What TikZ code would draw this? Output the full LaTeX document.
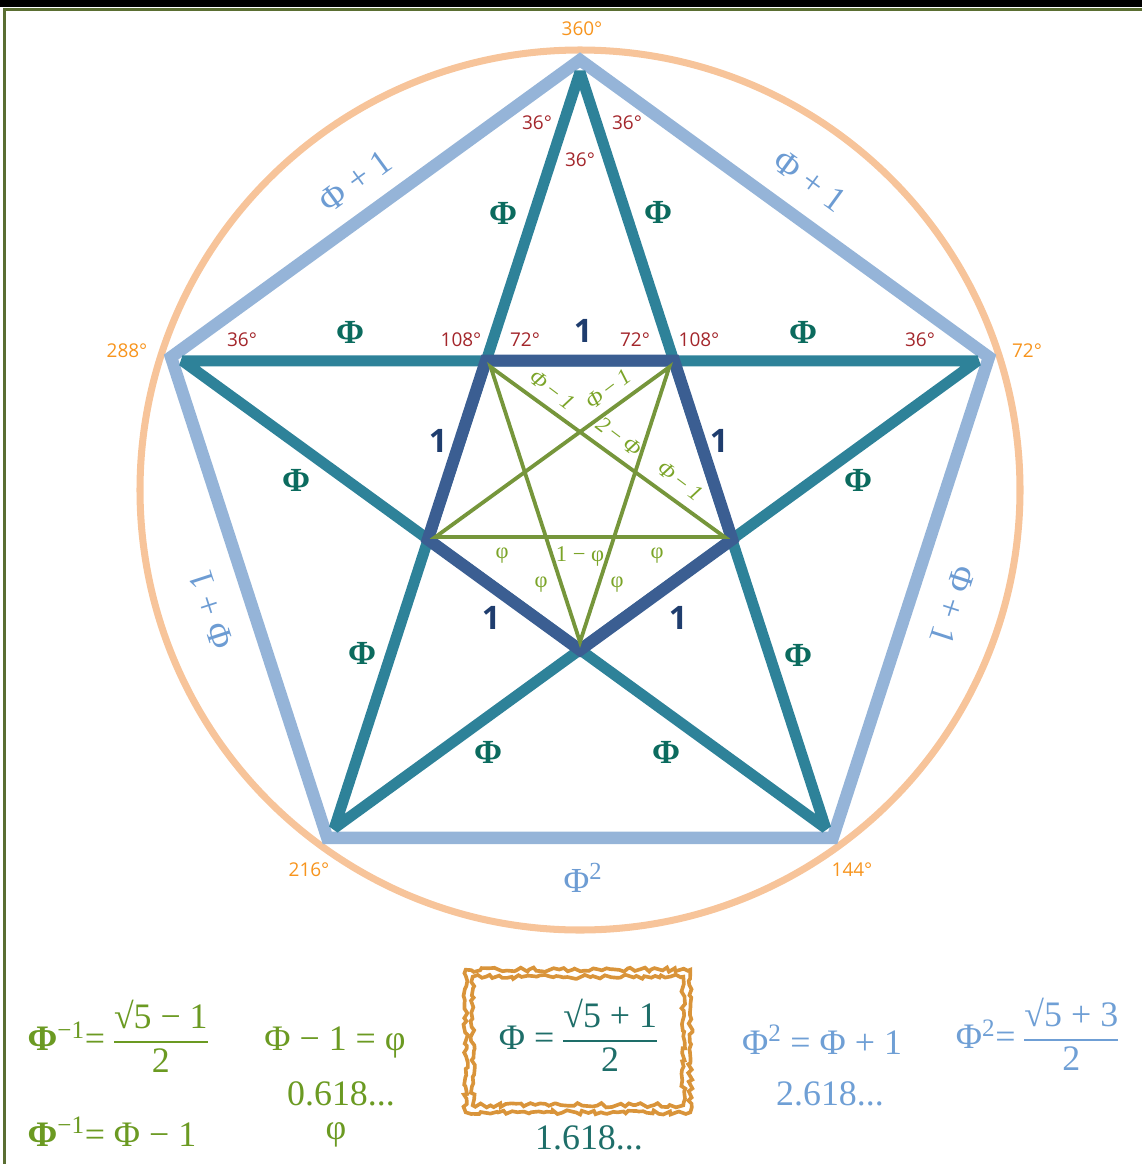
\documentclass[tikz,border=0pt]{standalone}
\usepackage{fontspec}
\setmainfont{Liberation Serif}
\newfontfamily\lblfont{Open Sans}
\usetikzlibrary{calc, decorations.pathmorphing}

\definecolor{ringC}{HTML}{F7C49A}
\definecolor{outerC}{HTML}{95B4D8}
\definecolor{starC}{HTML}{2E8299}
\definecolor{innerC}{HTML}{3B5E92}
\definecolor{smallC}{HTML}{76963B}
\definecolor{degC}{HTML}{F7941D}
\definecolor{angC}{HTML}{A3262B}
\definecolor{phiC}{HTML}{0B6B5E}
\definecolor{oneC}{HTML}{1F3D6E}
\definecolor{edgC}{HTML}{6D9CD3}
\definecolor{gtxC}{HTML}{7BA428}
\definecolor{fgrC}{HTML}{6B9A22}
\definecolor{ftlC}{HTML}{1E6E69}
\definecolor{fblC}{HTML}{6F9FD5}
\definecolor{frmC}{HTML}{D9943A}
\definecolor{oliveC}{HTML}{5A6E32}

\setlength{\arrayrulewidth}{1.1pt}
\newcommand{\phifrac}[2]{\begin{tabular}{@{}c@{}}#1\\\hline #2\end{tabular}}

\begin{document}
\begin{tikzpicture}[x=0.025cm, y=-0.025cm,
            % ----- Styles -----
                ring/.style={draw=ringC, line width=5pt},
                outer/.style={draw=outerC, line width=8.8pt, line join=miter},
                star/.style={draw=starC, line width=7.8pt, line join=bevel},
                inner/.style={draw=innerC, line width=8.6pt, line join=miter},
                small/.style={draw=smallC, line width=2.7pt, line join=miter},
                deg/.style={font=\lblfont\fontsize{13.5}{14}\selectfont, text=degC, inner sep=1pt},
                ang/.style={font=\lblfont\fontsize{13.5}{14}\selectfont, text=angC, inner sep=1pt},
                phl/.style={font=\bfseries\fontsize{24}{24}\selectfont, text=phiC, inner sep=1pt},
                one/.style={font=\lblfont\bfseries\fontsize{23}{23}\selectfont, text=oneC, inner sep=1pt},
                edg/.style={font=\fontsize{25}{25}\selectfont, text=edgC, inner sep=1pt},
                gsm/.style={font=\fontsize{16}{16}\selectfont, text=gtxC, inner sep=0pt},
                fml/.style={font=\fontsize{25.5}{30}\selectfont, inner sep=1pt},
                frm/.style={draw=frmC, line width=2.6pt, decorate,
                    decoration={random steps, segment length=3pt, amplitude=1.6pt}}
            ]

                \useasboundingbox (0,0) rectangle (1142,1164);

% ===================== Rahmen ==================================
                \fill[black] (0,0) rectangle (1142,6.5);
                \draw[oliveC, line width=2pt] (4.5,1164) -- (4.5,9.5) -- (1142,9.5);

% ===================== Punkte ==================================
%
%  Mitte (580,490), aeusseres Fuenfeck r=430, Stern r=418,
%  inneres Fuenfeck r=160, kleiner Stern r=152
%
                \coordinate (c) at (580,490);
                \foreach \i/\a in {1/-90, 2/-18, 3/54, 4/126, 5/198} {
                    \coordinate (o\i) at ($(c)+(\a:430)$);
                    \coordinate (s\i) at ($(c)+(\a:418)$);
                }
                \foreach \i/\a in {1/-126, 2/-54, 3/18, 4/90, 5/162} {
                    \coordinate (p\i) at ($(c)+(\a:160)$);
                    \coordinate (g\i) at ($(c)+(\a:152)$);
                }

% ===================== Linien ==================================
                \draw[ring] (c) circle [radius=440];
                \draw[outer] (o1) -- (o2) -- (o3) -- (o4) -- (o5) -- cycle;
                \draw[star] (s1) -- (s3) -- (s5) -- (s2) -- (s4) -- cycle;
                \draw[inner] (p1) -- (p2) -- (p3) -- (p4) -- (p5) -- cycle;
                \draw[small] (g1) -- (g4) -- (g2) -- (g5) -- (g3) -- cycle;

% ===================== Gradzahlen ==============================
                \node[deg] (d360) at (582,29)  {360°};
                \node[deg] (d72)  at (1027,351) {72°};
                \node[deg] (d288) at (127,351) {288°};
                \node[deg] (d216) at (309,870) {216°};
                \node[deg] (d144) at (852,870) {144°};

% ===================== Winkel ==================================
                \node[ang] (a1) at (537,123) {36°};
                \node[ang] (a2) at (627,123) {36°};
                \node[ang] (a3) at (580,160) {36°};
                \node[ang] (a4) at (242,340) {36°};
                \node[ang] (a5) at (461,340) {108°};
                \node[ang] (a6) at (525,340) {72°};
                \node[ang] (a7) at (635,340) {72°};
                \node[ang] (a8) at (699,340) {108°};
                \node[ang] (a9) at (920,340) {36°};

% ===================== Stern: Phi ==============================
                \node[phl] (f1)  at (503,213) {Φ};
                \node[phl] (f2)  at (658,212) {Φ};
                \node[phl] (f3)  at (350,332) {Φ};
                \node[phl] (f4)  at (803,332) {Φ};
                \node[phl] (f5)  at (296,480) {Φ};
                \node[phl] (f6)  at (858,480) {Φ};
                \node[phl] (f7)  at (362,653) {Φ};
                \node[phl] (f8)  at (798,655) {Φ};
                \node[phl] (f9)  at (488,752) {Φ};
                \node[phl] (f10) at (666,752) {Φ};

% ===================== Inneres Fuenfeck: 1 =====================
                \node[one] (e1) at (583,331) {1};
                \node[one] (e2) at (438,441) {1};
                \node[one] (e3) at (719,441) {1};
                \node[one] (e4) at (491,618) {1};
                \node[one] (e5) at (678,618) {1};

% ===================== Aeusseres Fuenfeck ======================
                \node[edg, rotate=36]   (b1) at (355,181) {Φ + 1};
                \node[edg, rotate=-36]  (b2) at (810,181) {Φ + 1};
                \node[edg, rotate=108]  (b3) at (211,610) {Φ + 1};
                \node[edg, rotate=-108] (b4) at (953,605) {Φ + 1};
                \node[edg] (b5) at (583,878) {Φ\textsuperscript{2}};

% ===================== Kleiner Stern ===========================
                \node[gsm, rotate=-37] (k1) at (552,390) {\textit{Φ}\,− \textit{1}};
                \node[gsm, rotate=37]  (k2) at (608,389) {\textit{Φ}\,− \textit{1}};
                \node[gsm, rotate=-37] (k3) at (619,437) {\textit{2}\,− \textit{Φ}};
                \node[gsm, rotate=-37] (k4) at (680,481) {\textit{Φ}\,− \textit{1}};
                \node[gsm] (k5) at (502,556) {φ};
                \node[gsm] (k6) at (580,556) {1 − φ};
                \node[gsm] (k7) at (657,556) {φ};
                \node[gsm] (k8) at (541,585) {φ};
                \node[gsm] (k9) at (617,585) {φ};

% ===================== Formeln =================================
                \node[fml, text=fgrC, anchor=west] (inv1) at (26,1042)
                    {\textbf{Φ}\textsuperscript{−1}= \phifrac{√5 − 1}{2}};
                \node[fml, text=fgrC, anchor=west] (inv2) at (26,1132)
                    {\textbf{Φ}\textsuperscript{−1}= Φ − 1};
                \node[fml, text=fgrC] (sml1) at (335,1042) {Φ − 1 = φ};
                \node[fml, text=fgrC] (sml2) at (341,1094) {0.618...};
                \node[fml, text=fgrC] (sml3) at (336,1135) {φ};

                \node[fml, text=ftlC, fill=white, minimum width=5cm, minimum height=2.95cm]
                    (phibox) at (578,1041) {Φ = \phifrac{√5 + 1}{2}};
                \draw[frm] ([shift={(-5,-5)}]phibox.north west) rectangle ([shift={(5,5)}]phibox.south east);
                \draw[frm] ([shift={(-12,-12)}]phibox.north west) rectangle ([shift={(12,12)}]phibox.south east);
                \node[fml, text=ftlC] (phival) at (589,1138) {1.618...};

                \node[fml, text=fblC] (sq1) at (822,1040) {Φ\textsuperscript{2} = Φ + 1};
                \node[fml, text=fblC] (sq2) at (830,1094) {2.618...};
                \node[fml, text=fblC] (sq3) at (1037,1040) {Φ\textsuperscript{2}= \phifrac{√5 + 3}{2}};

            \end{tikzpicture}
\end{document}
